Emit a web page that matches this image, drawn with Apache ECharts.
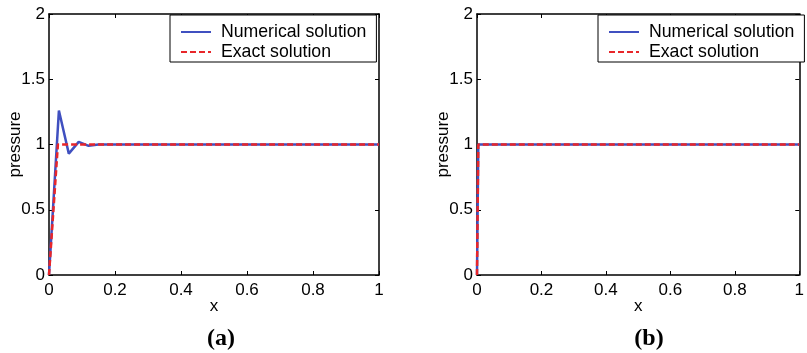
<!DOCTYPE html>
<html>
<head>
<meta charset="utf-8">
<script src="https://cdn.jsdelivr.net/npm/echarts@6/dist/echarts.min.js"></script>
<style>
  html, body { margin: 0; padding: 0; background: #fff; }
  #chart { width: 807px; height: 353px; }
</style>
</head>
<body>
<div id="chart"></div>
<script>
// x ticks / y ticks
var xTicks = [0, 0.2, 0.4, 0.6, 0.8, 1];
var yTicks = [0, 0.5, 1, 1.5, 2];

// panel (a): coarse grid, overshoot near the front
var numX_a = [0, 0.03, 0.06, 0.09, 0.12, 0.15, 1];
var numY_a = [0, 1.26, 0.93, 1.02, 0.99, 1, 1];
var exactX_a = [0, 0.027, 1];
var exactY_a = [0, 1, 1];

// panel (b): fine grid, sharp front
var numX_b = [0, 0.004, 1];
var numY_b = [0, 1, 1];
var exactX_b = [0, 0.004, 1];
var exactY_b = [0, 1, 1];

var captions = ['(a)', '(b)'];

function pairs(xs, ys) {
    return xs.map(function (x, i) { return [x, ys[i]]; });
}

var blue = '#4050c0';
var red = '#e8262a';
var font = 'Liberation Sans, Arial, sans-serif';

var grids = [
    { left: 49, top: 14, width: 330, height: 261 },
    { left: 477, top: 14, width: 330, height: 261 }
];

function mainX(gi) {
    return {
        type: 'value', gridIndex: gi, min: 0, max: 1, interval: 0.2,
        name: 'x', nameLocation: 'middle', nameGap: 23, nameMoveOverlap: false,
        nameTextStyle: { color: '#000', fontSize: 17, fontFamily: font },
        axisLine: { onZero: false, lineStyle: { color: '#000', width: 1.5 } },
        axisTick: { inside: true, length: 4, lineStyle: { color: '#000' } },
        axisLabel: { color: '#000', fontSize: 17, fontFamily: font, margin: 7,
            formatter: function (v) { return String(+v.toFixed(1)); } },
        splitLine: { show: false }
    };
}
function topX(gi) {
    return {
        type: 'value', gridIndex: gi, min: 0, max: 1, interval: 0.2, position: 'top',
        axisLine: { onZero: false, lineStyle: { color: '#000', width: 1.5 } },
        axisTick: { inside: true, length: 4, lineStyle: { color: '#000' } },
        axisLabel: { show: false }, splitLine: { show: false }
    };
}
function mainY(gi) {
    return {
        type: 'value', gridIndex: gi, min: 0, max: 2, interval: 0.5,
        name: 'pressure', nameLocation: 'middle', nameGap: 25, nameRotate: 90, nameMoveOverlap: false,
        nameTextStyle: { color: '#000', fontSize: 17, fontFamily: font },
        axisLine: { onZero: false, lineStyle: { color: '#000', width: 1.5 } },
        axisTick: { inside: true, length: 4, lineStyle: { color: '#000' } },
        axisLabel: { color: '#000', fontSize: 17, fontFamily: font, margin: 4 },
        splitLine: { show: false }
    };
}
function rightY(gi) {
    return {
        type: 'value', gridIndex: gi, min: 0, max: 2, interval: 0.5, position: 'right',
        axisLine: { onZero: false, lineStyle: { color: '#000', width: 1.5 } },
        axisTick: { inside: true, length: 4, lineStyle: { color: '#000' } },
        axisLabel: { show: false }, splitLine: { show: false }
    };
}

function legend(left) {
    return {
        left: left, top: 15, orient: 'vertical',
        itemWidth: 30, itemHeight: 14, itemGap: 2,
        padding: [8, 10, 1, 10],
        borderColor: '#000', borderWidth: 1, backgroundColor: '#fff',
        itemStyle: { opacity: 0 },
        formatter: function (n) { return ' ' + n; },
        textStyle: { color: '#000', fontSize: 17.7, fontFamily: font },
        data: ['Numerical solution', 'Exact solution']
    };
}

function numSeries(gi, data) {
    return {
        name: 'Numerical solution', type: 'line', xAxisIndex: gi * 2, yAxisIndex: gi * 2,
        data: data, symbol: 'none', animation: false,
        lineStyle: { color: blue, width: 2.5 }, itemStyle: { color: blue }
    };
}
function exactSeries(gi, data) {
    return {
        name: 'Exact solution', type: 'line', xAxisIndex: gi * 2, yAxisIndex: gi * 2,
        data: data, symbol: 'none', animation: false,
        lineStyle: { color: red, width: 2.5, type: [6, 3] }, itemStyle: { color: red }
    };
}

var capStyle = { fontFamily: 'Liberation Serif, Times New Roman, serif', fontSize: 24, fontWeight: 'bold', color: '#000' };

var chart = echarts.init(document.getElementById('chart'));
chart.setOption({
    animation: false,
    title: [
        { text: captions[0], left: 216, top: 322, textAlign: 'center', textStyle: capStyle },
        { text: captions[1], left: 644, top: 322, textAlign: 'center', textStyle: capStyle }
    ],
    grid: grids,
    xAxis: [mainX(0), topX(0), mainX(1), topX(1)],
    yAxis: [mainY(0), rightY(0), mainY(1), rightY(1)],
    legend: [legend(170), legend(598)],
    series: [
        numSeries(0, pairs(numX_a, numY_a)),
        exactSeries(0, pairs(exactX_a, exactY_a)),
        numSeries(1, pairs(numX_b, numY_b)),
        exactSeries(1, pairs(exactX_b, exactY_b))
    ]
});
</script>
</body>
</html>
